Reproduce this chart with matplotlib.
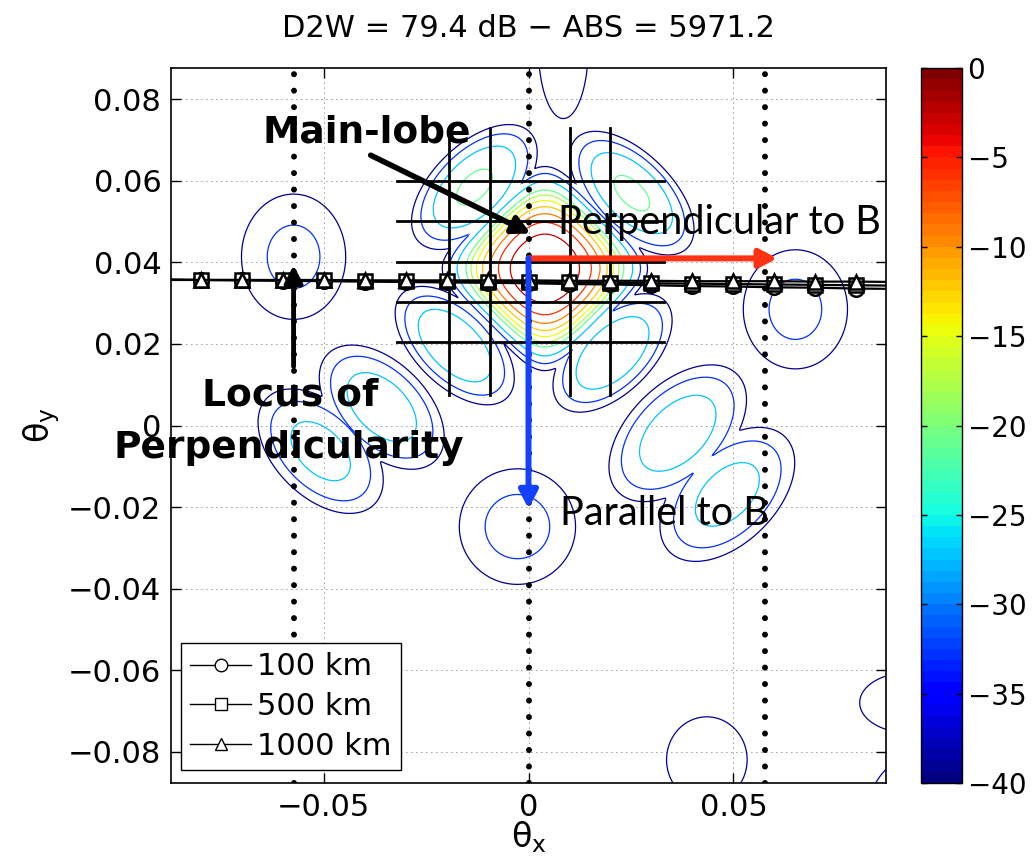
import numpy as np
import matplotlib
matplotlib.use("Agg")
import matplotlib.pyplot as plt
from matplotlib.colors import ListedColormap, Normalize
from matplotlib.patches import ArrowStyle
from matplotlib.lines import Line2D

# ---------------- data ----------------
title_text = "D2W = 79.4 dB \u2212 ABS = 5971.2"
contour_levels = [-39, -33, -27, -21, -18, -15, -12, -9, -6, -3]
cbar_ticks = [0, -5, -10, -15, -20, -25, -30, -35, -40]
x_ticks = [-0.05, 0.0, 0.05]
y_ticks = [-0.08, -0.06, -0.04, -0.02, 0.0, 0.02, 0.04, 0.06, 0.08]
x_tick_labels = ["\u22120.05", "0", "0.05"]
y_tick_labels = ["\u22120.08", "\u22120.06", "\u22120.04", "\u22120.02", "0",
                 "0.02", "0.04", "0.06", "0.08"]

# beam-pattern lobes (centre, peak level in dB, semi-axes at -40 dB, tilt)
lobe_names = ["main", "UL", "UR", "LL", "LR", "A", "B", "C", "D", "E",
              "F", "G", "H", "I", "J", "K"]
lobe_x = [0.004, -0.0132, 0.0252, -0.0180, 0.0205, -0.0358, -0.0507, -0.0027,
          0.0364, 0.0485, 0.0651, -0.0573, 0.0085, 0.0435, 0.0930, 0.0980]
lobe_y = [0.0385, 0.0585, 0.0570, 0.0196, 0.0178, 0.0045, -0.0063, -0.0248,
          -0.0019, -0.0169, 0.0285, 0.0414, 0.0930, -0.0820, -0.0680, -0.0950]
lobe_peak = [0.0, -20.0, -20.0, -21.5, -21.5, -23.0, -24.5, -31.0,
             -23.0, -24.5, -31.5, -31.5, -36.0, -36.0, -36.0, -36.5]
lobe_a = [0.0253, 0.0195, 0.0195, 0.0185, 0.0185, 0.0190, 0.0190, 0.0149,
          0.0210, 0.0205, 0.0134, 0.0134, 0.0069, 0.0111, 0.0138, 0.0175]
lobe_b = [0.0253, 0.0105, 0.0100, 0.0100, 0.0100, 0.0113, 0.0115, 0.0149,
          0.0123, 0.0123, 0.0154, 0.0162, 0.0200, 0.0119, 0.0084, 0.0175]
lobe_tilt = [0, 45, -45, -45, 45, -45, -45, 0, 45, 45, 0, 0, 0, 0, 0, 0]
lobe_diamond = [3.65, 0, 0, 0, 0, 0, 0, 0, 0, 0, 0, 0, 0, 0, 0, 0]
falloff = 1.18

# locus of perpendicularity for three altitudes
locus_x = [-0.09, -0.08, -0.07, -0.06, -0.05, -0.04, -0.03, -0.02, -0.01, 0.0,
           0.01, 0.02, 0.03, 0.04, 0.05, 0.06, 0.07, 0.08, 0.09]
locus_100 = [0.0358, 0.0357, 0.0356, 0.0355, 0.0354, 0.0353, 0.0352, 0.0351,
             0.0350, 0.0349, 0.0347, 0.0346, 0.0344, 0.0342, 0.0341, 0.0339,
             0.0338, 0.0336, 0.0335]
locus_500 = [0.0358, 0.0357, 0.0357, 0.0356, 0.0356, 0.0355, 0.0354, 0.0354,
             0.0353, 0.0352, 0.0351, 0.0350, 0.0349, 0.0348, 0.0347, 0.0346,
             0.0345, 0.0344, 0.0343]
locus_1000 = [0.0357, 0.0357, 0.0357, 0.0357, 0.0357, 0.0356, 0.0356, 0.0356,
              0.0356, 0.0356, 0.0355, 0.0355, 0.0355, 0.0354, 0.0354, 0.0354,
              0.0353, 0.0353, 0.0352]
locus_labels = ["100 km", "500 km", "1000 km"]
locus_markers = ["o", "s", "^"]

# field-line grid around the main lobe
grid_vx = [-0.0195, -0.0095, 0.0102, 0.0198]
grid_vy = [0.0076, 0.0729]
grid_hy = [0.0206, 0.0304, 0.0400, 0.0501, 0.0599]
grid_hx = [-0.0320, 0.0330]

# dotted vertical boundaries
bound_x = [-0.0573, 0.0, 0.0578]

# arrows
origin = (0.0, 0.0410)
perp_tip = (0.0607, 0.0410)
par_tip = (0.0, -0.0204)
main_tail = (-0.0385, 0.0663)
main_tip = (0.0005, 0.0471)
locus_tail = (-0.0573, 0.0145)
locus_tip = (-0.0573, 0.0393)

xlim = (-0.0872, 0.0872)
ylim = (-0.0877, 0.0877)

# ---------------- figure ----------------
plt.rcParams["font.family"] = ["DejaVu Sans"]
plt.rcParams["mathtext.fontset"] = "dejavusans"
fig = plt.figure(figsize=(10.32, 8.65), dpi=100)
ax = fig.add_axes([171 / 1032, 82 / 865, 715 / 1032, 715 / 865])
cax = fig.add_axes([921 / 1032, 82 / 865, 41 / 1032, 715 / 865])

jet64 = ListedColormap(plt.get_cmap("jet")(np.linspace(0, 1, 64)))
norm = Normalize(vmin=-40, vmax=0)

gx = np.linspace(xlim[0], xlim[1], 500)
gy = np.linspace(ylim[0], ylim[1], 500)
X, Y = np.meshgrid(gx, gy)
F = np.full(X.shape, -40.0)
for cx, cy, pk, a, b, t, d in zip(lobe_x, lobe_y, lobe_peak, lobe_a, lobe_b,
                                  lobe_tilt, lobe_diamond):
    th = np.deg2rad(t)
    dx, dy = X - cx, Y - cy
    u = dx * np.cos(th) + dy * np.sin(th)
    v = -dx * np.sin(th) + dy * np.cos(th)
    q = (u / a) ** 2 + (v / b) ** 2 + d * (u * v) ** 2 / (a * a * b * b)
    lob = pk - (pk + 40.0) * q ** falloff
    F = np.maximum(F, lob)

ax.contour(X, Y, F, levels=sorted(contour_levels), cmap=jet64, norm=norm,
           linewidths=0.9, zorder=2)

# grid (MATLAB-like dotted)
ax.set_xticks(x_ticks)
ax.set_yticks(y_ticks)
ax.set_xticklabels(x_tick_labels)
ax.set_yticklabels(y_tick_labels)
ax.grid(True, color="k", linestyle=(0, (1, 5)), linewidth=0.6, alpha=0.8)
ax.set_axisbelow(True)

# black field-line grid
for gxv in grid_vx:
    ax.plot([gxv, gxv], grid_vy, color="k", lw=2.0, zorder=3)
for gyv in grid_hy:
    ax.plot(grid_hx, [gyv, gyv], color="k", lw=2.0, zorder=3)

# dotted boundaries
for bx in bound_x:
    ax.plot([bx, bx], [ylim[0], ylim[1]], color="k", lw=4.3,
            linestyle=(0, (0.01, 2.75)), dash_capstyle="round", zorder=4)

# locus lines
for ys, m in zip([locus_100, locus_500, locus_1000], locus_markers):
    ax.plot(locus_x, ys, "-", marker=m, color="k", lw=1.6, zorder=5,
            markerfacecolor="white", markeredgecolor="k", markersize=10.5,
            markeredgewidth=1.8, markevery=list(range(1, 18)))

# arrows
def arrow(tail, tip, color, lw, ms):
    ax.annotate("", xy=tip, xytext=tail, zorder=7,
                arrowprops=dict(arrowstyle=ArrowStyle("-|>", head_length=0.8,
                                                      head_width=0.42),
                                color=color, lw=lw, shrinkA=0, shrinkB=0,
                                mutation_scale=ms))

arrow(origin, perp_tip, (1.0, 0.2, 0.08), 4.3, 13)
arrow(origin, par_tip, (0.08, 0.25, 1.0), 4.3, 13)
arrow(main_tail, main_tip, "k", 4.0, 13)
arrow(locus_tail, locus_tip, "k", 3.5, 13)

# annotations
bold = dict(family="DejaVu Sans", weight="bold", size=27, color="k", zorder=8)
ax.text(-0.0649, 0.0694, "Main-lobe", ha="left", va="baseline", **bold)
ax.text(-0.0582, 0.0049, "Locus of", ha="center", va="baseline", **bold)
ax.text(-0.0585, -0.0079, "Perpendicularity", ha="center", va="baseline", **bold)
reg = dict(family=["Lato", "DejaVu Sans"], size=28.5, color="k", zorder=8)
ax.text(0.0071, 0.0470, "Perpendicular to B", ha="left", va="baseline", **reg)
ax.text(0.0078, -0.0243, "Parallel to B", ha="left", va="baseline", **reg)

ax.set_xlim(xlim)
ax.set_ylim(ylim)
ax.tick_params(direction="in", top=True, right=True, length=7, width=1,
               labelsize=22, pad=7)
for s in ax.spines.values():
    s.set_linewidth(1.2)
ax.set_title(title_text, fontsize=22, pad=22)
ax.set_xlabel(r"$\mathrm{\theta}_\mathrm{x}$", fontsize=24, labelpad=-2)
ax.set_ylabel(r"$\mathrm{\theta}_\mathrm{y}$", fontsize=24, labelpad=4)

handles = [Line2D([], [], color="k", lw=1.0, marker=m, markersize=9,
                  markerfacecolor="white", markeredgecolor="k",
                  markeredgewidth=1.0) for m in locus_markers]
leg = ax.legend(handles, locus_labels, loc="lower left", numpoints=1,
                bbox_to_anchor=(10 / 715, 13 / 715), borderaxespad=0,
                fontsize=22, frameon=True, fancybox=False, handlelength=2.0,
                handletextpad=0.2, labelspacing=0.35, borderpad=0.3,
                edgecolor="k", framealpha=1)
leg.get_frame().set_linewidth(1.0)
leg.set_zorder(9)

# colorbar
sm = plt.cm.ScalarMappable(cmap=jet64, norm=norm)
cb = fig.colorbar(sm, cax=cax, ticks=cbar_ticks)
cb.ax.set_yticklabels(["0" if t == 0 else "\u2212%d" % (-t) for t in cbar_ticks])
cb.ax.tick_params(direction="in", left=True, right=True, length=4, width=1,
                  labelsize=20, pad=4, color="k")
cb.outline.set_linewidth(1.0)

fig.savefig("out.png", dpi=100)
